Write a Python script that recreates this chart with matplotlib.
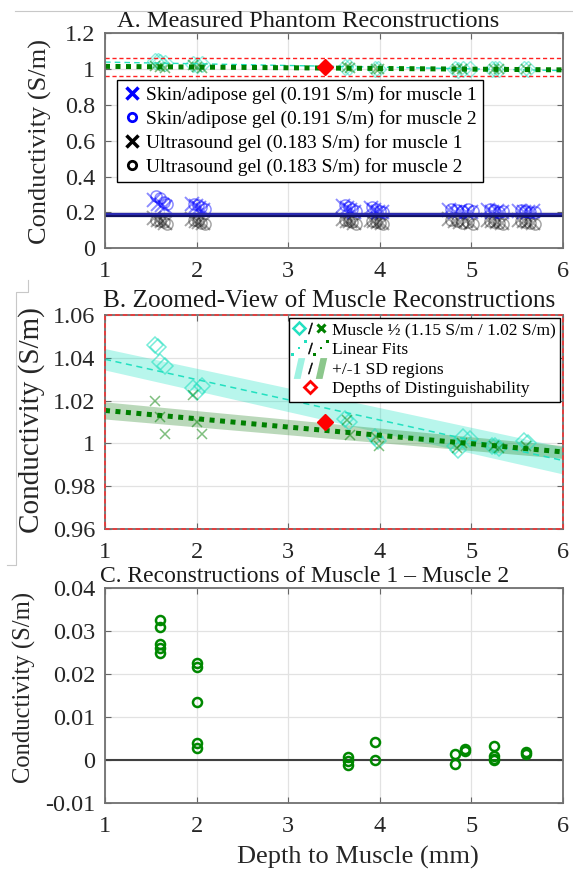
import numpy as np
import matplotlib
matplotlib.use('Agg')
import matplotlib.pyplot as plt
from matplotlib.lines import Line2D
from matplotlib.path import Path
from matplotlib.legend_handler import HandlerTuple

plt.rcParams['font.family'] = ['Liberation Serif', 'DejaVu Serif']

# ---------------- data ----------------
# Panel A: gel reconstructions (depth, conductivity)
gel_x1 = [1.54, 1.58, 1.62, 1.66, 1.95, 1.99, 2.03, 2.07, 3.60, 3.64, 3.68, 3.72,
          3.90, 3.94, 3.98, 4.02, 4.76, 4.82, 4.88, 4.94, 5.00, 5.18, 5.23, 5.28, 5.33,
          5.52, 5.57, 5.62, 5.67]
gel_x2 = [1.56, 1.60, 1.64, 1.68, 1.97, 2.01, 2.05, 2.09, 3.62, 3.66, 3.70, 3.74,
          3.92, 3.96, 4.00, 4.04, 4.78, 4.84, 4.90, 4.96, 5.02, 5.20, 5.25, 5.30, 5.35,
          5.54, 5.59, 5.64, 5.69]
skin_m1_y = [0.270, 0.250, 0.240, 0.230, 0.245, 0.235, 0.225, 0.215, 0.235, 0.225, 0.215, 0.205,
             0.225, 0.215, 0.205, 0.200, 0.215, 0.205, 0.210, 0.200, 0.205, 0.215, 0.205, 0.210, 0.200,
             0.210, 0.205, 0.200, 0.210]
skin_m2_y = [0.290, 0.280, 0.260, 0.250, 0.250, 0.240, 0.230, 0.220, 0.240, 0.230, 0.220, 0.210,
             0.230, 0.220, 0.210, 0.205, 0.220, 0.215, 0.210, 0.220, 0.210, 0.220, 0.215, 0.205, 0.210,
             0.215, 0.210, 0.205, 0.200]
us_m1_y = [0.170, 0.160, 0.150, 0.140, 0.165, 0.155, 0.145, 0.140, 0.165, 0.155, 0.150, 0.140,
           0.160, 0.150, 0.145, 0.140, 0.165, 0.155, 0.145, 0.150, 0.140, 0.160, 0.150, 0.145, 0.140,
           0.160, 0.150, 0.145, 0.140]
us_m2_y = [0.160, 0.150, 0.145, 0.135, 0.160, 0.150, 0.140, 0.135, 0.160, 0.150, 0.145, 0.135,
           0.155, 0.145, 0.140, 0.135, 0.160, 0.150, 0.140, 0.145, 0.135, 0.155, 0.145, 0.140, 0.135,
           0.155, 0.145, 0.140, 0.135]
skin_gel_cond = 0.191
us_gel_cond = 0.183

# Muscle reconstructions (panels A and B)
m1_x = [1.55, 1.58, 1.60, 1.65, 1.96, 2.00, 2.06, 3.62, 3.66, 3.95, 3.98, 4.82, 4.85, 4.91, 4.98, 5.22, 5.26, 5.30, 5.57, 5.62]
m1_y = [1.046, 1.045, 1.038, 1.036, 1.026, 1.024, 1.027, 1.0115, 1.010, 1.003, 1.001, 0.999, 0.997, 1.003, 1.002, 0.999, 0.999, 0.998, 1.001, 1.000]
m2_x = [1.55, 1.60, 1.65, 1.96, 2.00, 2.06, 3.64, 3.68, 3.96, 3.99, 4.84, 4.90, 5.25, 5.30, 5.60]
m2_y = [1.0196, 1.0123, 1.0045, 1.0224, 1.010, 1.0045, 1.011, 1.004, 1.003, 0.999, 0.998, 1.000, 0.999, 0.998, 0.999]

# Linear fits and +/-1 SD half widths at the ends of the depth range
fit_x = [1, 6]
fit1_y = [1.0393, 0.992]
fit1_sd = [0.005, 0.0063]
fit2_y = [1.0154, 0.996]
fit2_sd = [0.004, 0.003]

# Depth of distinguishability
dd_x = [3.4]
dd_y = [1.0098]

# Panel C: muscle 1 - muscle 2
c_x = [1.6] * 5 + [2.0] * 5 + [3.65] * 3 + [3.95] * 2 + [4.82] * 2 + [4.93] * 2 + [5.25] * 4 + [5.6] * 2
c_y = [0.0325, 0.031, 0.027, 0.026, 0.025,
       0.0226, 0.0217, 0.0135, 0.004, 0.0028,
       0.0007, -0.0002, -0.0012,
       0.0042, 0.0,
       0.0015, -0.001,
       0.0025, 0.002,
       0.0033, 0.001, 0.0003, 0.0,
       0.0018, 0.0013]

xticks = [1, 2, 3, 4, 5, 6]
yticksA = [0, 0.2, 0.4, 0.6, 0.8, 1.0, 1.2]
yticksB = [0.96, 0.98, 1.0, 1.02, 1.04, 1.06]
yticksC = [-0.01, 0.0, 0.01, 0.02, 0.03, 0.04]

# ---------------- styles ----------------
CYAN = '#22e0c0'
GREEN = '#008000'
W, H = 573, 871
fig = plt.figure(figsize=(W / 100, H / 100), dpi=100)


def ax_px(left, top, right, bottom):
    return fig.add_axes([left / W, 1 - bottom / H, (right - left) / W, (bottom - top) / H])


def style(ax, ylim, yticks, fs):
    ax.set_xlim(1, 6)
    ax.set_ylim(*ylim)
    ax.set_xticks(xticks)
    ax.set_xticklabels([str(v) for v in xticks])
    ax.set_yticks(yticks)
    ax.set_yticklabels([f'{v:g}' for v in yticks])
    ax.grid(True, color='#e2e2e2', lw=0.9)
    ax.set_axisbelow(True)
    ax.tick_params(direction='in', length=4, width=0.8, color='#666666',
                   top=True, right=True, labelsize=fs, labelcolor='#262626')
    ax.tick_params(axis='x', pad=9)
    ax.tick_params(axis='y', pad=7)
    for s in ax.spines.values():
        s.set_color('#707070')
        s.set_linewidth(1.3)


def fig_text(x, y, s, **kw):
    fig.text(x / W, 1 - y / H, s, **kw)


xf = np.array(fit_x, dtype=float)
f1 = np.array(fit1_y)
f2 = np.array(fit2_y)
s1 = np.array(fit1_sd)
s2 = np.array(fit2_sd)

# ---------------- Panel A ----------------
axA = ax_px(105, 33.3, 563, 248.3)
style(axA, (0, 1.2), yticksA, 17.5)
axA.plot(gel_x1, us_m1_y, ls='none', marker='x', ms=10, mew=1.4, color='k', alpha=0.35)
axA.plot(gel_x2, us_m2_y, ls='none', marker='o', ms=8, mew=1.1, mfc='none', mec='k', alpha=0.35)
axA.plot(gel_x1, skin_m1_y, ls='none', marker='x', ms=10, mew=1.4, color='#0000ff', alpha=0.45)
axA.plot(gel_x2, skin_m2_y, ls='none', marker='o', ms=8, mew=1.1, mfc='none', mec='#0000ff', alpha=0.45)
axA.axhline(us_gel_cond, color='#101060', lw=1.6)
axA.axhline(skin_gel_cond, color='#2a2ab0', lw=1.6)
axA.plot(m1_x, m1_y, ls='none', marker='D', ms=8, mfc='none', mec=CYAN, alpha=0.5)
axA.plot(m2_x, m2_y, ls='none', marker='x', ms=7, mew=1.2, color=GREEN, alpha=0.5)
axA.plot(xf, f1, color=CYAN, lw=1, ls=(0, (4, 3)))
axA.plot(xf, f2, color=GREEN, lw=3.6, ls=(0, (1, 1.1)), dash_capstyle='butt')
for v in (yticksB[0], yticksB[-1]):
    axA.axhline(v, color='#ff2020', lw=1, ls=(0, (3, 2)))
axA.plot(dd_x, [1.01], ls='none', marker='D', ms=8, color='red', mec='red')

legA_handles = [
    Line2D([], [], ls='none', marker='x', ms=9, mew=2.5, color='#0000ff'),
    Line2D([], [], ls='none', marker='o', ms=6, mew=2, mfc='none', mec='#0000ff'),
    Line2D([], [], ls='none', marker='x', ms=9, mew=2.5, color='k'),
    Line2D([], [], ls='none', marker='o', ms=6, mew=2, mfc='none', mec='k'),
]
legA_labels = [f'Skin/adipose gel ({skin_gel_cond} S/m) for muscle 1',
               f'Skin/adipose gel ({skin_gel_cond} S/m) for muscle 2',
               f'Ultrasound gel ({us_gel_cond} S/m) for muscle 1',
               f'Ultrasound gel ({us_gel_cond} S/m) for muscle 2']
legA = axA.legend(legA_handles, legA_labels, loc='upper left',
                  bbox_to_anchor=((117 - 105) / 458, (248.3 - 80) / 215), borderaxespad=0,
                  fontsize=14, handlelength=0.9, handletextpad=0.3, labelspacing=0.32,
                  borderpad=0.3, fancybox=False, framealpha=1, edgecolor='k')
legA.get_frame().set_linewidth(1.0)

# ---------------- Panel B ----------------
axB = ax_px(105, 315, 563, 529)
style(axB, (0.96, 1.06), yticksB, 17.5)
axB.fill_between(xf, f1 - s1, f1 + s1, color='#00e0bb', alpha=0.28, lw=0)
axB.fill_between(xf, f2 - s2, f2 + s2, color='#2e8b2e', alpha=0.33, lw=0)
axB.plot(m1_x, m1_y, ls='none', marker='D', ms=8, mew=1.1, mfc='none', mec=CYAN, alpha=0.6)
axB.plot(m2_x, m2_y, ls='none', marker='x', ms=7, mew=1.1, color=GREEN, alpha=0.5)
axB.plot(xf, f1, color=CYAN, lw=1.1, ls=(0, (4, 3)))
axB.plot(xf, f2, color=GREEN, lw=3.6, ls=(0, (1, 1.1)), dash_capstyle='butt')
axB.plot(dd_x, dd_y, ls='none', marker='D', ms=8.5, color='red', mec='red')
axB.add_patch(plt.Rectangle((0, 0), 1, 1, transform=axB.transAxes, fill=False,
                            ec='#ff3030', lw=1.1, ls=(0, (3, 2)), clip_on=False, zorder=5))


def sq_path(points, s):
    verts, codes = [], []
    for cx, cy in points:
        verts += [(cx - s, cy - s), (cx + s, cy - s), (cx + s, cy + s), (cx - s, cy + s), (cx - s, cy - s)]
        codes += [Path.MOVETO, Path.LINETO, Path.LINETO, Path.LINETO, Path.CLOSEPOLY]
    return Path(verts, codes)


dots = sq_path([(-1, -1), (0, 0), (1, 1)], 0.22)
para = Path([(-0.55, -1), (0.1, -1), (0.55, 1), (-0.1, 1), (-0.55, -1)],
            [Path.MOVETO, Path.LINETO, Path.LINETO, Path.LINETO, Path.CLOSEPOLY])
slash = dict(ls='none', marker='$/$', ms=8, color='k', mew=0.3)

hB1 = (Line2D([], [], ls='none', marker='D', ms=6, mew=1.8, mfc='none', mec=CYAN),
       Line2D([], [], **slash),
       Line2D([], [], ls='none', marker='x', ms=6, mew=2.2, color=GREEN))
hB2 = (Line2D([], [], ls='none', marker=dots, ms=11, color=CYAN, mew=0),
       Line2D([], [], **slash),
       Line2D([], [], ls='none', marker=dots, ms=11, color=GREEN, mew=0))
hB3 = (Line2D([], [], ls='none', marker=para, ms=15, color='#9ff2e2', mew=0),
       Line2D([], [], **slash),
       Line2D([], [], ls='none', marker=para, ms=15, color='#8cc78c', mew=0))
hB4 = Line2D([], [], ls='none', marker='D', ms=6.5, mew=2, mfc='white', mec='red')
legB = axB.legend([hB1, hB2, hB3, hB4],
                  ['Muscle ½ (1.15 S/m / 1.02 S/m)', 'Linear Fits', '+/-1 SD regions',
                   'Depths of Distinguishability'],
                  handler_map={tuple: HandlerTuple(ndivide=None, pad=0)},
                  loc='upper right', bbox_to_anchor=((560 - 105) / 458, (529 - 318) / 214),
                  borderaxespad=0, fontsize=12.5, handlelength=1.9, handletextpad=0.3,
                  labelspacing=0.2, borderpad=0.25, fancybox=False, framealpha=1, edgecolor='k')
legB.get_frame().set_linewidth(1.0)
legB.set_zorder(10)

# ---------------- Panel C ----------------
axC = ax_px(105, 588, 563, 803)
style(axC, (-0.01, 0.04), yticksC, 17.5)
axC.axhline(0, color='#404040', lw=1.5)
axC.plot(c_x, c_y, ls='none', marker='o', ms=6.5, mew=1.8, mfc='none', mec='#008800')

# ---------------- texts ----------------
fig_text(308, 27, 'A. Measured Phantom Reconstructions', ha='center', va='baseline', fontsize=17.6, color='#1a1a1a')
fig_text(329, 307, 'B. Zoomed-View of Muscle Reconstructions', ha='center', va='baseline', fontsize=18.2, color='#1a1a1a')
fig_text(305, 582, 'C. Reconstructions of Muscle 1 \u2013 Muscle 2', ha='center', va='baseline', fontsize=17, color='#1a1a1a')
fig_text(40, 141, 'Conductivity (S/m)', rotation=90, ha='center', va='center', fontsize=19, color='#262626')
fig_text(32, 420, 'Conductivity (S/m)', rotation=90, ha='center', va='center', fontsize=21, color='#262626')
fig_text(24, 687, 'Conductivity (S/m)', rotation=90, ha='center', va='center', fontsize=17.7, color='#262626')
fig_text(358, 857, 'Depth to Muscle (mm)', ha='center', va='center', fontsize=19, color='#262626')

# thin frame artefacts of the composite figure
frame_kw = dict(color='#c8c8c8', lw=0.8)
fig.add_artist(Line2D([15 / W, 1], [1 - 11 / H, 1 - 11 / H], **frame_kw))
fig.add_artist(Line2D([28 / W, 28 / W, 16 / W, 16 / W, 7 / W],
                      [1 - 280 / H, 1 - 292 / H, 1 - 292 / H, 1 - 565 / H, 1 - 565 / H], **frame_kw))

fig.savefig('out.png', dpi=100)
